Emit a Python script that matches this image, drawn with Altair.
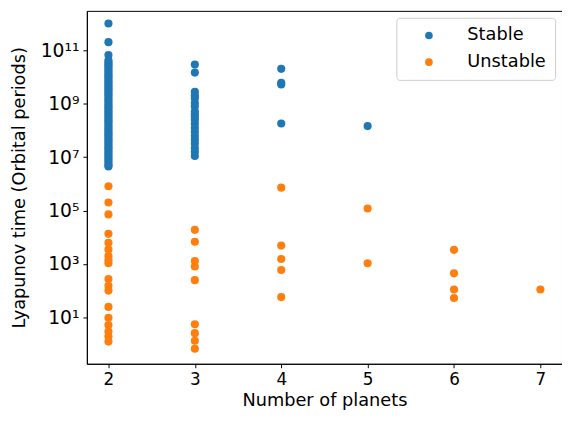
import altair as alt
import pandas as pd

stable_2 = [1.0e12, 2.0e11, 6.6e10, 4.2e10, 3.5e10, 3.0e10, 2.6e10, 2.2e10, 1.9e10, 1.6e10,
            1.35e10, 1.15e10, 1.0e10, 8.5e9, 7.2e9, 6.3e9, 5.2e9, 4.5e9, 3.8e9, 3.2e9,
            2.75e9, 2.3e9, 2.0e9, 1.65e9, 1.4e9, 1.2e9, 1.0e9, 8.5e8, 7.2e8, 6.3e8,
            5.2e8, 4.5e8, 3.8e8, 3.2e8, 2.7e8, 2.3e8, 2.0e8, 1.65e8, 1.4e8, 1.2e8,
            1.0e8, 8.5e7, 7.2e7, 6.3e7, 5.2e7, 4.5e7, 3.8e7, 3.2e7, 2.7e7, 2.3e7,
            2.0e7, 1.65e7, 1.4e7, 1.2e7, 1.0e7, 8.5e6, 7.2e6, 6.0e6, 5.0e6, 4.5e6]
unstable_2 = [8.1e5, 2.0e5, 7.2e4, 1.35e4, 6.2e3, 3.5e3, 2.0e3, 1.4e3, 1.07e3, 275,
              155, 102, 25, 9.8, 5.2, 3.0, 1.95, 1.26]
stable_3 = [2.9e10, 1.45e10, 2.8e9, 2.0e9, 1.6e9, 1.05e9, 7.9e8, 5.1e8, 4.0e8, 3.2e8,
            2.5e8, 1.8e8, 1.25e8, 8.9e7, 6.3e7, 4.5e7, 3.2e7, 2.2e7, 1.6e7, 1.1e7]
unstable_3 = [1.9e4, 6.8e3, 1.3e3, 810, 250, 5.6, 2.6, 1.35, 0.68]
stable_4 = [2.0e10, 6.0e9, 5.2e9, 1.8e8]
unstable_4 = [7.2e5, 4.9e3, 1.55e3, 600, 58]
stable_5 = [1.45e8]
unstable_5 = [1.2e5, 1.07e3]
stable_6 = []
unstable_6 = [3.4e3, 450, 112, 54]
stable_7 = []
unstable_7 = [112]

groups = {
    2: (stable_2, unstable_2),
    3: (stable_3, unstable_3),
    4: (stable_4, unstable_4),
    5: (stable_5, unstable_5),
    6: (stable_6, unstable_6),
    7: (stable_7, unstable_7),
}

rows = []
for n, (st, un) in groups.items():
    for v in st:
        rows.append({"planets": n, "time": v, "status": "Stable"})
    for v in un:
        rows.append({"planets": n, "time": v, "status": "Unstable"})
df = pd.DataFrame(rows)

y_ticks = [1e1, 1e3, 1e5, 1e7, 1e9, 1e11]
label_expr = ("datum.value == 1e11 ? '10¹¹' : datum.value == 1e9 ? '10⁹' : "
              "datum.value == 1e7 ? '10⁷' : datum.value == 1e5 ? '10⁵' : "
              "datum.value == 1e3 ? '10³' : '10¹'")

chart = alt.Chart(df).mark_circle(size=68, opacity=1).encode(
    x=alt.X("planets:Q",
            scale=alt.Scale(domain=[1.75, 7.25], nice=False, zero=False),
            axis=alt.Axis(title="Number of planets", values=[2, 3, 4, 5, 6, 7],
                          format="d", grid=False)),
    y=alt.Y("time:Q",
            scale=alt.Scale(type="log", domain=[10 ** -0.73, 10 ** 12.47], nice=False),
            axis=alt.Axis(title="Lyapunov time (Orbital periods)", values=y_ticks,
                          labelExpr=label_expr, grid=False, labelFontSize=19,
                          titlePadding=12)),
    color=alt.Color("status:N",
                    scale=alt.Scale(domain=["Stable", "Unstable"],
                                    range=["#1f77b4", "#ff7f0e"]),
                    legend=alt.Legend(title=None, orient="top-right",
                                      strokeColor="#cccccc", cornerRadius=3,
                                      padding=9, offset=7, symbolSize=60,
                                      symbolOffset=15,
                                      labelFontSize=18, labelOffset=30,
                                      rowPadding=9, symbolType="circle")),
    order=alt.Order("status:N"),
).properties(width=482, height=358,
             padding={"left": 2, "top": 0, "right": 0, "bottom": 0}).configure_view(
    stroke="black", strokeWidth=1
).configure_axis(
    labelFont="DejaVu Sans", titleFont="DejaVu Sans",
    labelFontSize=17, titleFontSize=18, titleFontWeight="normal",
    labelColor="black", titleColor="black",
    domainColor="black", tickColor="black", tickSize=4,
    labelPadding=4,
).configure_legend(
    labelFont="DejaVu Sans", labelColor="black", fillColor="white"
)

chart.save("out.html", embed_options={"renderer": "svg", "actions": False})
